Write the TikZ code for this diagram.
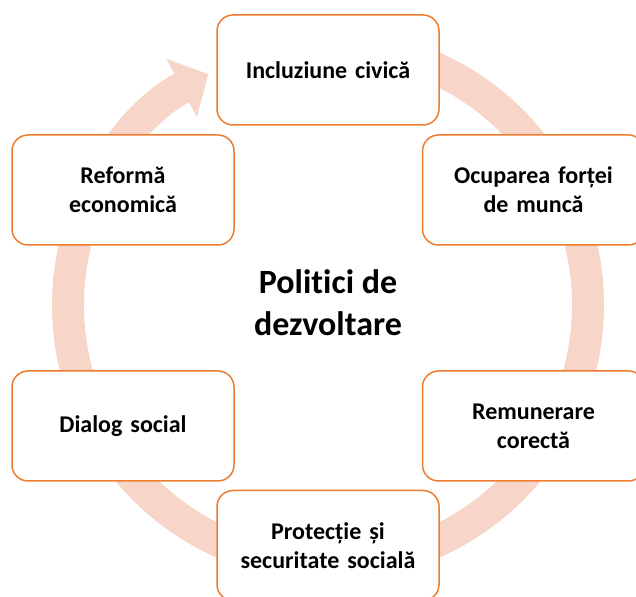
\documentclass[tikz,border=0pt]{standalone}
\usepackage{fontspec}
\setmainfont{Carlito}[RawFeature={-liga;-clig;-calt;-dlig}]
\usepackage{tikz}
\usetikzlibrary{positioning,arrows.meta}
\definecolor{boxline}{RGB}{237,125,49}
\definecolor{ringfill}{RGB}{247,214,201}

\begin{document}
\begin{tikzpicture}[x=1pt, y=1pt,
    box/.style={draw=boxline, line width=1.5pt, fill=white, rounded corners=16pt,
        minimum width=222pt, minimum height=110pt, text width=200pt, align=center,
        font=\fontsize{24}{29}\selectfont\bfseries},
    ring/.style={line width=32pt, draw=ringfill, -{Triangle[width=64pt,length=30pt]}}]
    \path[use as bounding box, fill=white] (0,0) rectangle (636,596);
    % cycle ring
    \draw[ring] (328,291) ++(85:260) arc[start angle=85, end angle=-242.6, radius=260];
    \node[font=\fontsize{34}{42}\selectfont\bfseries, align=center] (politici) at (328,293) {Politici de\\dezvoltare};
    \node[box] (incl) at (328,526) {Incluziune civică};
    \node[box] (reforma) at (123,406) {Reformă\\economică};
    \node[box, right=187pt of reforma] (ocup) {Ocuparea forței\\de muncă};
    \node[box, below=124.5pt of reforma] (dialog) {Dialog social};
    \node[box, right=187pt of dialog] (remun) {Remunerare\\corectă};
    \node[box, below=364pt of incl] (prot) {Protecție și\\securitate socială};
\end{tikzpicture}
\end{document}
